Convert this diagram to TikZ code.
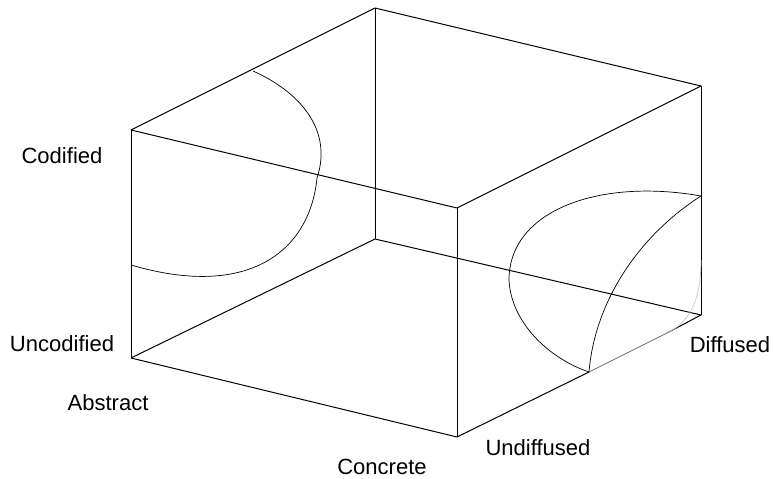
\documentclass[tikz,border=0pt]{standalone}
\usepackage{fontspec}
\setmainfont{Liberation Sans}
\usetikzlibrary{calc}

\begin{document}
\begin{tikzpicture}[x=0.03cm,y=-0.03cm]

% colors
\definecolor{edgeColor}{HTML}{000000}
\definecolor{hiddenColor}{HTML}{6E6E6E}
\definecolor{faintColor}{HTML}{C8C8C8}

\def\edgeWidth{0.85pt}
\def\curveWidth{0.6pt}
\def\labelFont{\fontsize{18.8}{22}\selectfont}

\tikzset{
    boxEdge/.style={edgeColor, line width=\edgeWidth, line join=round},
    regionCurve/.style={edgeColor, line width=\curveWidth},
    axisLabel/.style={inner sep=0pt, font=\labelFont}
}

\useasboundingbox (0,0) rectangle (773,479);

% top face corners
\coordinate (topFrontLeft) at (131,130);
\coordinate (topBackLeft) at (375,8);
\coordinate (topBackRight) at (701,86);
\coordinate (topFrontRight) at (457,208);

% bottom face corners
\coordinate (bottomFrontLeft) at (131,358);
\coordinate (bottomBackLeft) at (375,239);
\coordinate (bottomBackRight) at (701,315);
\coordinate (bottomFrontRight) at (457,437);

% points on the right bottom edge
\coordinate (edgeInner) at (589,372);
\coordinate (edgeOuter) at (667,333);

% top face
\draw[boxEdge] (topFrontLeft) -- (topBackLeft) -- (topBackRight) -- (topFrontRight) -- cycle;
% vertical edges
\draw[boxEdge] (topFrontLeft) -- (bottomFrontLeft);
\draw[boxEdge] (topBackLeft) -- (bottomBackLeft);
\draw[boxEdge] (topBackRight) -- (bottomBackRight);
\draw[boxEdge] (topFrontRight) -- (bottomFrontRight);
% bottom face
\draw[boxEdge] (bottomFrontLeft) -- (bottomBackLeft) -- (bottomBackRight) -- (edgeOuter);
\draw[hiddenColor, line width=\curveWidth] (edgeOuter) -- (edgeInner);
\draw[boxEdge] (edgeInner) -- (bottomFrontRight) -- (bottomFrontLeft);

% region on the left face
\coordinate (leftCurveTop) at (253,71);
\coordinate (leftCurveMid) at (317,178);
\coordinate (leftCurveEnd) at (131,265);
\draw[regionCurve] (leftCurveTop) .. controls (300,92) and (333,130) .. (leftCurveMid)
    .. controls (310,250) and (250,300) .. (leftCurveEnd);

% region on the right face
\coordinate (rightCurveTop) at (701,196);
\coordinate (rightCurveLeft) at (509,280);
\draw[regionCurve] (rightCurveTop) .. controls (600,178) and (509,210) .. (rightCurveLeft)
    .. controls (511,322) and (548,358) .. (edgeInner);
\draw[regionCurve] (rightCurveTop) .. controls (640,235) and (595,300) .. (edgeInner);

% faint region on the bottom face
\coordinate (faintCurveTop) at (701,260);
\draw[faintColor, line width=\curveWidth] (faintCurveTop) .. controls (701,300) and (690,322) .. (edgeOuter);

% axis labels
\node[axisLabel] (codifiedLabel) at (62,156) {Codified};
\node[axisLabel] (uncodifiedLabel) at (62,344) {Uncodified};
\node[axisLabel] (abstractLabel) at (108,403) {Abstract};
\node[axisLabel] (concreteLabel) at (382,467) {Concrete};
\node[axisLabel] (undiffusedLabel) at (538,448) {Undiffused};
\node[axisLabel] (diffusedLabel) at (730,345) {Diffused};

\end{tikzpicture}
\end{document}
